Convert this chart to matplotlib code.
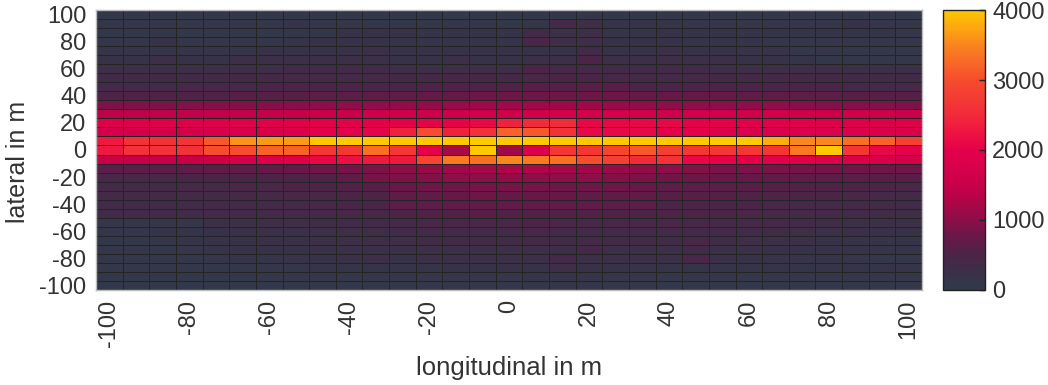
import matplotlib
matplotlib.use("Agg")
import matplotlib.pyplot as plt
import numpy as np
from matplotlib.colors import LinearSegmentedColormap

plt.rcParams['font.family'] = ['Liberation Sans', 'DejaVu Sans']
plt.rcParams['axes.unicode_minus'] = False

# bin centres in m
longitudinal = np.linspace(-100, 100, 31)
lateral = np.linspace(100, -100, 31)   # top row first

# counts per cell, rows from lateral=+100 (top) to -100 (bottom)
counts = [
    [50, 50, 50, 50, 50, 50, 50, 60, 60, 60, 60, 60, 50, 30, 50, 60, 80, 80, 80, 60, 60, 60, 50, 60, 60, 60, 60, 50, 60, 50, 50],
    [80, 80, 80, 80, 80, 80, 80, 150, 80, 100, 100, 100, 80, 80, 80, 60, 100, 400, 300, 150, 150, 150, 120, 120, 120, 120, 120, 120, 200, 120, 120],
    [100, 100, 100, 100, 100, 100, 100, 100, 100, 200, 200, 200, 150, 150, 150, 150, 350, 250, 300, 150, 150, 200, 150, 150, 150, 150, 150, 150, 150, 150, 120],
    [100, 100, 200, 100, 100, 100, 100, 150, 200, 200, 200, 150, 150, 150, 150, 150, 450, 300, 300, 200, 200, 200, 150, 150, 150, 120, 120, 120, 120, 120, 120],
    [150, 150, 150, 150, 150, 150, 200, 200, 200, 200, 250, 200, 200, 200, 200, 200, 200, 200, 350, 200, 200, 250, 200, 200, 180, 180, 120, 120, 100, 100, 100],
    [200, 200, 250, 200, 200, 250, 250, 250, 250, 250, 250, 200, 200, 250, 200, 200, 250, 250, 500, 250, 250, 300, 250, 250, 200, 200, 150, 100, 100, 100, 100],
    [300, 300, 300, 300, 300, 300, 300, 350, 350, 350, 350, 300, 300, 300, 300, 300, 500, 400, 400, 350, 350, 350, 350, 300, 300, 300, 300, 300, 250, 250, 250],
    [350, 350, 350, 350, 350, 400, 400, 400, 400, 400, 400, 400, 400, 450, 450, 400, 450, 500, 500, 450, 400, 400, 400, 400, 400, 400, 400, 400, 350, 350, 350],
    [400, 400, 400, 450, 450, 450, 500, 500, 500, 500, 500, 500, 550, 550, 550, 550, 600, 600, 600, 600, 500, 500, 500, 500, 500, 500, 500, 500, 450, 450, 450],
    [500, 550, 550, 550, 550, 600, 600, 600, 650, 650, 700, 700, 750, 750, 800, 800, 800, 800, 800, 800, 750, 750, 750, 750, 700, 700, 650, 650, 600, 600, 600],
    [880, 900, 900, 920, 930, 950, 950, 980, 1000, 1000, 1020, 1050, 1050, 1080, 1150, 1150, 1150, 1150, 1150, 1100, 1050, 1000, 1000, 1000, 1000, 1000, 980, 950, 950, 920, 900],
    [1400, 1400, 1420, 1420, 1450, 1450, 1480, 1500, 1550, 1550, 1580, 1600, 1600, 1620, 1650, 1650, 1650, 1680, 1680, 1680, 1650, 1650, 1650, 1650, 1650, 1650, 1620, 1600, 1600, 1580, 1550],
    [1900, 1900, 1900, 1900, 1920, 1950, 1950, 1950, 2000, 2000, 2000, 2000, 2050, 2050, 2100, 2400, 2500, 2500, 2100, 2100, 2100, 2100, 2000, 2000, 1950, 1950, 1950, 1900, 1900, 1900, 1900],
    [1700, 1700, 1700, 1720, 1750, 1750, 1780, 1800, 2000, 2000, 2050, 2400, 3000, 2400, 2600, 3200, 3100, 2600, 2100, 2100, 2100, 2000, 2000, 1850, 1800, 1800, 1800, 1800, 1800, 1800, 1800],
    [2300, 2600, 2600, 2650, 3100, 3600, 3650, 3650, 4100, 4150, 4200, 4200, 4250, 4300, 4300, 4300, 4300, 4250, 4250, 4200, 4200, 4150, 4150, 4100, 4050, 3800, 3500, 3500, 3300, 3200, 2800],
    [2300, 2600, 2600, 2600, 3000, 3000, 3200, 3200, 2700, 2700, 3300, 2700, 2000, 1200, 4100, 1150, 1800, 2700, 2700, 2900, 3100, 2800, 2700, 2700, 2700, 2700, 3400, 4100, 2700, 2100, 2000],
    [1500, 1500, 1500, 1500, 1600, 1700, 1850, 1900, 2100, 2200, 2300, 2300, 2900, 3400, 3300, 3500, 3400, 3300, 3000, 2800, 2500, 2600, 2100, 2050, 2000, 1950, 1900, 1850, 1800, 1750, 1700],
    [650, 650, 650, 680, 700, 700, 720, 750, 800, 850, 900, 1000, 1050, 1150, 1200, 1250, 1250, 1200, 1150, 1100, 1050, 1000, 950, 900, 900, 880, 850, 850, 820, 800, 800],
    [450, 450, 450, 480, 480, 500, 500, 520, 550, 650, 850, 900, 950, 1000, 1000, 1050, 1000, 1000, 1000, 950, 900, 800, 780, 750, 720, 700, 680, 650, 620, 600, 600],
    [400, 400, 400, 420, 420, 450, 450, 480, 500, 550, 600, 750, 800, 800, 850, 850, 850, 800, 800, 800, 750, 650, 650, 620, 600, 580, 550, 520, 500, 480, 450],
    [380, 380, 400, 400, 400, 420, 420, 450, 450, 480, 500, 700, 700, 750, 800, 750, 750, 750, 700, 700, 700, 600, 600, 580, 550, 520, 500, 480, 450, 420, 400],
    [350, 350, 350, 350, 380, 380, 400, 420, 450, 480, 500, 650, 650, 700, 700, 700, 700, 700, 700, 650, 650, 500, 500, 500, 480, 450, 420, 400, 380, 360, 350],
    [350, 350, 350, 350, 380, 380, 380, 400, 420, 450, 450, 500, 550, 550, 600, 550, 550, 550, 550, 550, 500, 500, 500, 480, 450, 420, 400, 380, 350, 320, 300],
    [120, 120, 120, 120, 250, 280, 300, 300, 320, 350, 350, 400, 450, 450, 450, 450, 500, 450, 450, 450, 450, 450, 450, 420, 400, 380, 350, 320, 280, 260, 250],
    [120, 120, 150, 150, 200, 220, 250, 250, 280, 300, 300, 350, 400, 400, 400, 400, 450, 400, 400, 400, 400, 400, 400, 380, 350, 320, 300, 280, 250, 220, 200],
    [100, 100, 120, 150, 180, 200, 220, 230, 250, 280, 300, 300, 350, 350, 350, 350, 400, 350, 400, 350, 350, 350, 450, 320, 300, 280, 250, 200, 180, 160, 150],
    [100, 100, 100, 120, 150, 180, 200, 200, 220, 250, 250, 250, 300, 300, 300, 300, 300, 300, 400, 300, 300, 300, 350, 280, 250, 220, 200, 180, 160, 150, 150],
    [80, 80, 80, 100, 120, 150, 150, 180, 200, 220, 300, 200, 250, 250, 250, 250, 250, 400, 250, 250, 250, 250, 450, 220, 200, 180, 160, 150, 130, 120, 120],
    [80, 80, 80, 80, 100, 100, 120, 120, 150, 150, 150, 150, 150, 200, 200, 200, 200, 300, 200, 200, 180, 150, 150, 150, 150, 150, 150, 150, 150, 150, 150],
    [50, 50, 50, 50, 60, 60, 80, 80, 100, 100, 100, 100, 120, 120, 120, 120, 150, 150, 150, 120, 120, 100, 100, 100, 100, 100, 100, 100, 100, 100, 100],
    [50, 50, 50, 50, 50, 60, 60, 60, 80, 80, 100, 80, 80, 80, 100, 100, 100, 120, 120, 100, 100, 100, 80, 80, 80, 80, 80, 80, 80, 80, 80],
]

cmap = LinearSegmentedColormap.from_list("heat", [
    (0.0, "#303a4a"),
    (0.0625, "#3b3048"),
    (0.125, "#4c2448"),
    (0.1875, "#681848"),
    (0.25, "#8c0e48"),
    (0.3125, "#ae0648"),
    (0.375, "#c8004a"),
    (0.4375, "#d8004a"),
    (0.5, "#e4004a"),
    (0.5625, "#ee1442"),
    (0.625, "#f22a3a"),
    (0.75, "#f64c2e"),
    (0.875, "#fa8420"),
    (1.0, "#ffc800"),
])

txt = "#333333"
fig = plt.figure(figsize=(10.48, 3.85), dpi=100)
ax = fig.add_axes([0.0916, 0.2468, 0.7882, 0.7272])
cax = fig.add_axes([0.900, 0.2468, 0.040, 0.7272])

mesh = ax.pcolormesh(longitudinal, lateral, np.array(counts), cmap=cmap,
                     vmin=0, vmax=4000, shading='nearest',
                     edgecolors='#242424', linewidth=0.6)

ax.set_xticks(np.arange(-100, 101, 20))
ax.set_yticks(np.arange(-100, 101, 20))
ax.tick_params(axis='x', labelrotation=90, length=0, pad=7, labelsize=17, labelcolor=txt)
ax.tick_params(axis='y', length=0, pad=7, labelsize=17, labelcolor=txt)
for s in ax.spines.values():
    s.set_color('#bbbbbb')
    s.set_linewidth(1.0)

fig.text(509 / 1048, 1 - 368 / 385, 'longitudinal in m', fontsize=18.5,
         color=txt, ha='center', va='center')
fig.text(18 / 1048, 1 - 162 / 385, 'lateral in m', fontsize=18,
         color=txt, ha='center', va='center', rotation=90)

cb = fig.colorbar(mesh, cax=cax)
cb.set_ticks([0, 1000, 2000, 3000, 4000])
cb.ax.tick_params(direction='in', length=4, width=1, color='#222222',
                  labelsize=17, labelcolor=txt, pad=5)
cb.outline.set_edgecolor('#222222')
cb.outline.set_linewidth(1.0)

fig.savefig('out.png', dpi=100)
